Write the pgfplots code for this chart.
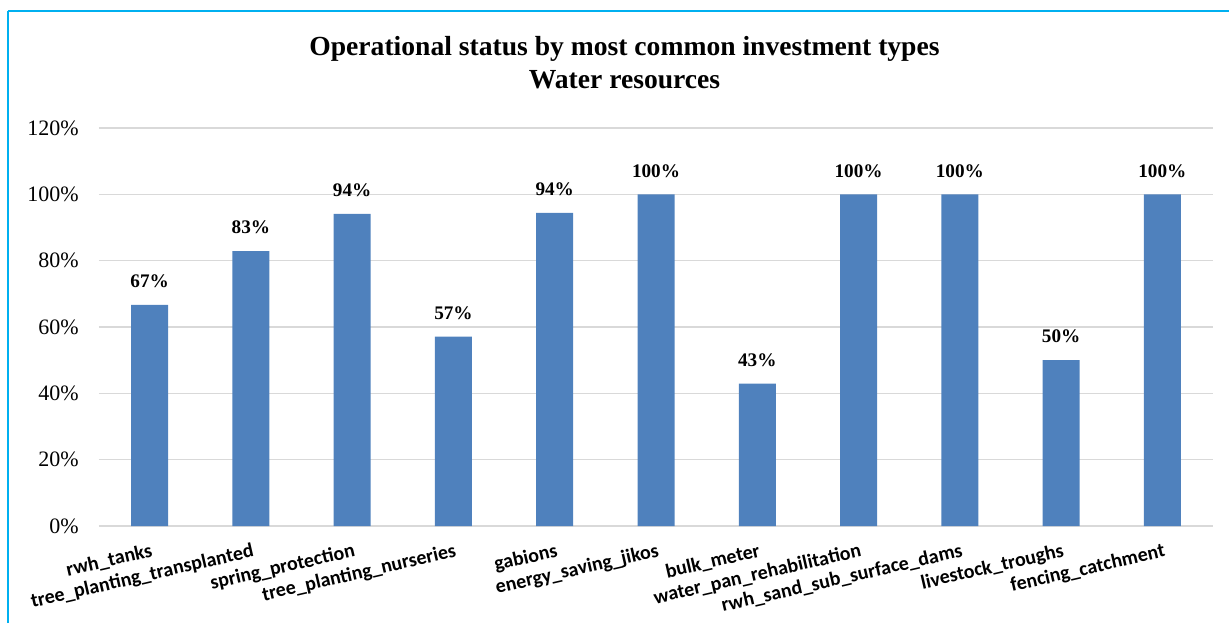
\documentclass[border=0pt]{standalone}
\usepackage{fontspec}
\setmainfont{Liberation Serif}
\newfontfamily\carlito{Carlito}
\usepackage{pgfplots}
\pgfplotsset{compat=1.18}
\definecolor{barblue}{HTML}{4F81BD}
\definecolor{gridgray}{HTML}{D9D9D9}
\definecolor{framecyan}{HTML}{00B0F0}
\begin{document}
\begin{tikzpicture}
\path[use as bounding box] (-49.5pt,-48.5pt) rectangle (565pt,263pt);
\begin{axis}[
  at={(0,0)}, anchor=south west,
  scale only axis, width=557pt, height=199pt,
  xmin=-0.5, xmax=10.5, ymin=0, ymax=120,
  ybar, bar width=18.5pt,
  axis line style={draw=none},
  major tick length=0pt,
  ytick={0,20,...,120},
  yticklabels={0\%,20\%,40\%,60\%,80\%,100\%,120\%},
  yticklabel style={font=\fontsize{11}{13}\selectfont, anchor=east, inner sep=0pt, xshift=-10pt},
  ymajorgrids, grid style={line width=0.75pt, color=gridgray},
  xtick={0,...,10},
  xticklabels={rwh\_tanks,tree\_planting\_transplanted,spring\_protection,tree\_planting\_nurseries,gabions,energy\_saving\_jikos,bulk\_meter,water\_pan\_rehabilitation,rwh\_sand\_sub\_surface\_dams,livestock\_troughs,fencing\_catchment},
  xticklabel style={font=\carlito\bfseries\fontsize{10}{12}\selectfont, rotate=13, anchor=north east, inner sep=0pt, yshift=-8pt, xshift=-1.5pt},
  point meta=y,
  nodes near coords={\pgfmathprintnumber[fixed,precision=0,assume math mode=true]{\pgfplotspointmeta}\%},
  every node near coord/.append style={font=\bfseries\fontsize{9.6}{11}\selectfont, yshift=5pt, text=black},
  clip=false,
]
\addplot[fill=barblue, draw=none] coordinates {
  (0,66.7) (1,82.9) (2,94.1) (3,57.1) (4,94.4) (5,100) (6,42.9) (7,100) (8,100) (9,50) (10,100)
};
\end{axis}
\node[anchor=base, font=\bfseries\fontsize{13.8}{16}\selectfont] at (262.75pt,235.5pt) {Operational status by most common investment types};
\node[anchor=base, font=\bfseries\fontsize{13.8}{16}\selectfont] at (262.75pt,219pt) {Water resources};
\draw[framecyan, line width=1pt] (-45.5pt,-48.5pt) -- (-45.5pt,257.5pt);
\draw[framecyan, line width=0.75pt] (-45.5pt,257.5pt) -- (565pt,257.5pt);
\end{tikzpicture}
\end{document}
